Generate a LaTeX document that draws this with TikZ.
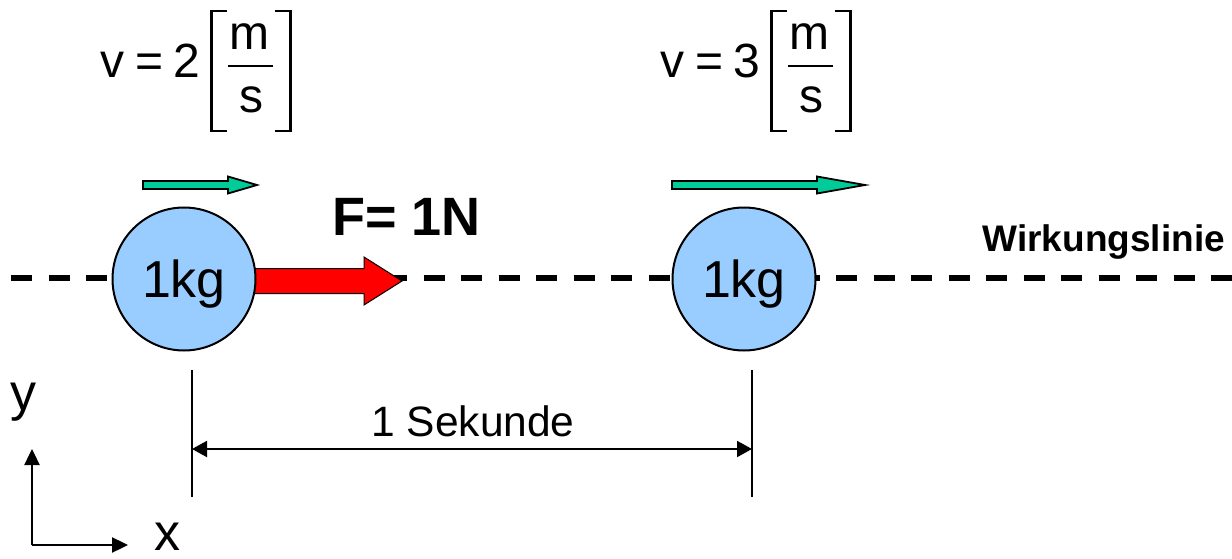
\documentclass[tikz,border=0pt]{standalone}
\usepackage{fontspec}
\setmainfont{Liberation Sans}
\usetikzlibrary{arrows.meta}
\definecolor{ballblue}{HTML}{99CCFF}
\definecolor{velgreen}{HTML}{00CC99}
\definecolor{forcered}{HTML}{FF0000}
\tikzset{
  ball/.style={circle, draw=black, line width=2pt, fill=ballblue, minimum size=143pt, inner sep=0pt,
    text depth=0pt, font=\fontsize{52}{62}\selectfont},
  velarrow/.style={draw=black, line width=1.8pt, fill=velgreen, line join=miter},
  forcearrow/.style={draw=black, line width=1pt, fill=forcered, line join=miter},
  wline/.style={line width=6pt, dash pattern=on 21pt off 16.5pt},
  dimline/.style={line width=2pt},
  dimarrow/.style={line width=2pt, {Triangle[length=15pt,width=16pt]}-{Triangle[length=15pt,width=16pt]}},
  axisarrow/.style={line width=2.4pt, -{Triangle[length=16pt,width=15pt]}},
  formtxt/.style={anchor=base, inner sep=0pt, font=\fontsize{48}{58}\selectfont},
  bracket/.style={line width=2.6pt},
  fracline/.style={line width=1.3pt},
  boldlabel/.style={inner sep=0pt, font=\bfseries\fontsize{54}{64}\selectfont},
  plainlabel/.style={inner sep=0pt, font=\fontsize{42.5}{50}\selectfont},
  axislabel/.style={anchor=base, inner sep=0pt, font=\fontsize{52}{62}\selectfont}
}
\begin{document}
\begin{tikzpicture}[x=1pt,y=-1pt]
\useasboundingbox (0,0) rectangle (1232,559);

% line of action
\coordinate (wl0) at (11,277.5);
\coordinate (wl1) at (1232,277.5);
\draw[wline] (wl0) -- (wl1);
\node[boldlabel, anchor=base east, font=\bfseries\fontsize{37}{44}\selectfont] (wlabel) at (1225,251) {Wirkungslinie};

% force arrow
\draw[forcearrow] (245,268.5) -- (364,268.5) -- (364,257) -- (402,281) -- (364,305) -- (364,293.5) -- (245,293.5) -- cycle;
\node[boldlabel, anchor=base west] (force) at (332,235) {F= 1N};

% masses
\node[ball] (m1) at (184,279) {1kg};
\node[ball] (m2) at (744,279) {1kg};

% velocity arrows
\draw[velarrow] (143,181) -- (228,181) -- (228,176.5) -- (257,185) -- (228,193.5) -- (228,189) -- (143,189) -- cycle;
\draw[velarrow] (672,181) -- (817,181) -- (817,176.5) -- (865,185) -- (817,193.5) -- (817,189) -- (672,189) -- cycle;

% formulas
\foreach \dx/\val/\nm in {0/2/a, 560/3/b}{
  \begin{scope}[xshift=\dx pt]
    \node[formtxt] (v\nm) at (112.5,78) {v};
    \node[formtxt] (eq\nm) at (150,78) {=};
    \node[formtxt] (n\nm) at (186.5,78) {\val};
    \node[formtxt] (m\nm) at (249.5,50) {m};
    \node[formtxt] (s\nm) at (251.5,112.5) {s};
    \draw[fracline] (228,66) -- (273,66);
    \draw[bracket] (227,11) -- (211.5,11) -- (211.5,131) -- (227,131);
    \draw[bracket] (275,11) -- (290.5,11) -- (290.5,131) -- (275,131);
  \end{scope}
}

% time dimension
\coordinate (d1t) at (192,370);
\coordinate (d1b) at (192,497);
\coordinate (d2t) at (752,370);
\coordinate (d2b) at (752,497);
\coordinate (d1m) at (192,449);
\coordinate (d2m) at (752,449);
\draw[dimline] (d1t) -- (d1b);
\draw[dimline] (d2t) -- (d2b);
\draw[dimarrow] (d1m) -- (d2m);
\node[plainlabel, anchor=base] (sek) at (473,436) {1 Sekunde};

% axes
\coordinate (o) at (32,545);
\coordinate (ytip) at (32,449);
\coordinate (xtip) at (128,545);
\draw[axisarrow] (o) -- (ytip);
\draw[axisarrow] (o) -- (xtip);
\node[axislabel] (ylab) at (23,410) {y};
\node[axislabel, text depth=0pt] (xlab) at (167,550) {x};
\end{tikzpicture}
\end{document}
